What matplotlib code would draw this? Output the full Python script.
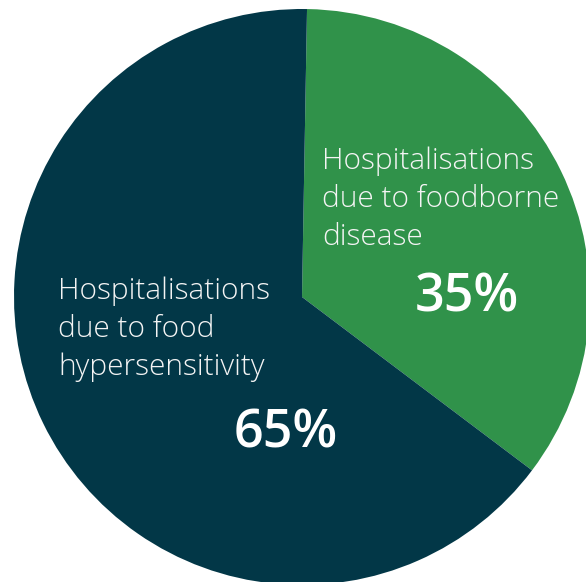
import matplotlib
matplotlib.use("Agg")
import matplotlib.pyplot as plt

# shares of hospitalisations
labels = ["Hospitalisations\ndue to foodborne\ndisease", "Hospitalisations\ndue to food\nhypersensitivity"]
shares = [35, 65]
pct_text = ["35%", "65%"]
colors = ["#30924A", "#023747"]

W, H = 586, 582
fig = plt.figure(figsize=(W / 100, H / 100), dpi=100)
ax = fig.add_axes([0, 0, 1, 1])

# pie in pixel coordinates (y up)
ax.pie(shares, colors=colors, startangle=89, counterclock=False,
       center=(302, H - 297), radius=288, frame=True,
       wedgeprops=dict(linewidth=0))
ax.set_xlim(0, W)
ax.set_ylim(0, H)
ax.set_aspect("auto")
ax.axis("off")

# label positions (left x, first baseline), percentage centre
lab_pos = [(322, 169), (58, 299)]
pct_pos = [(467, 312), (286, 447)]
line_gap = 38

for lab, (x, y) in zip(labels, lab_pos):
    for k, line in enumerate(lab.split("\n")):
        ax.text(x, H - (y + k * line_gap), line, color="#F4F4F4",
                fontsize=21.5, family="Open Sans", weight="light",
                ha="left", va="baseline")

for p, (x, y) in zip(pct_text, pct_pos):
    ax.text(x, H - y, p, color="white", fontsize=37.5, family="Open Sans",
            weight="semibold", ha="center", va="baseline")

fig.savefig("out.png", dpi=100)
